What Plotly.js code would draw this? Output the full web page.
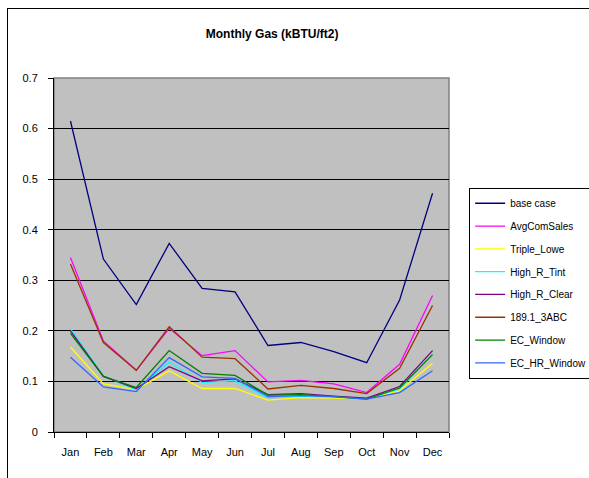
<!DOCTYPE html>
<html>
<head>
<meta charset="utf-8">
<script src="https://cdn.plot.ly/plotly-3.0.1.min.js"></script>
<style>
html,body{margin:0;padding:0;background:#fff;}
#wrap{position:relative;width:589px;height:478px;overflow:hidden;}
#chart{position:absolute;left:0;top:0;width:589px;height:478px;}
#frame{position:absolute;left:7px;top:8px;width:600px;height:500px;border-left:1px solid #000;border-top:1px solid #000;pointer-events:none;}
</style>
</head>
<body>
<div id="wrap"><div id="chart"></div><div id="frame"></div></div>
<script>
const months = ["Jan","Feb","Mar","Apr","May","Jun","Jul","Aug","Sep","Oct","Nov","Dec"];
const seriesNames = ["base case","AvgComSales","Triple_Lowe","High_R_Tint","High_R_Clear","189.1_3ABC","EC_Window","EC_HR_Window"];
const baseCase     = [0.615,0.342,0.252,0.373,0.284,0.277,0.171,0.177,0.159,0.137,0.261,0.472];
const avgComSales  = [0.345,0.180,0.122,0.205,0.151,0.161,0.099,0.102,0.095,0.078,0.134,0.270];
const tripleLowe   = [0.168,0.095,0.084,0.121,0.086,0.086,0.063,0.068,0.067,0.066,0.082,0.136];
const highRTint    = [0.204,0.111,0.083,0.138,0.098,0.101,0.068,0.071,0.069,0.066,0.085,0.155];
const highRClear   = [0.200,0.110,0.086,0.129,0.101,0.105,0.074,0.076,0.071,0.067,0.090,0.161];
const ashrae189    = [0.332,0.177,0.122,0.208,0.148,0.145,0.085,0.092,0.086,0.076,0.126,0.250];
const ecWindow     = [0.195,0.110,0.088,0.161,0.116,0.112,0.073,0.074,0.070,0.065,0.087,0.153];
const ecHRWindow   = [0.148,0.089,0.080,0.147,0.109,0.106,0.070,0.072,0.070,0.065,0.078,0.121];
const yTicks = [0,0.1,0.2,0.3,0.4,0.5,0.6,0.7];
const yTickLabels = ["0","0.1","0.2","0.3","0.4","0.5","0.6","0.7"];

const allSeries = [baseCase,avgComSales,tripleLowe,highRTint,highRClear,ashrae189,ecWindow,ecHRWindow];
const colors = ["#000080","#FF00FF","#FFFF00","#00FFFF","#800080","#993300","#008000","#3366FF"];

const traces = allSeries.map((vals,i)=>({
  type:"scatter", mode:"lines", x:months, y:vals, name:seriesNames[i],
  legendgroup:"g"+i,
  line:{color:colors[i], width:1.3}
}));

const layout = {
  width:589, height:478,
  margin:{l:54, r:140, t:78, b:46, autoexpand:false},
  paper_bgcolor:"#ffffff",
  plot_bgcolor:"#C0C0C0",
  font:{family:"Liberation Sans, Arial, sans-serif", size:11, color:"#000"},
  title:{text:"<b>Monthly Gas (kBTU/ft2)</b>", font:{size:12, color:"#000"}, x:0.462, xanchor:"center", y:0.93, yanchor:"middle"},
  showlegend:true,
  legend:{x:1.051, xanchor:"left", y:0.69, yanchor:"top", bgcolor:"#fff", bordercolor:"#000", borderwidth:1,
          font:{size:10}, traceorder:"grouped", tracegroupgap:3.8, itemwidth:30},
  xaxis:{type:"category", range:[-0.5,11.5], showgrid:false, showline:true, linecolor:"#000", linewidth:1,
         ticks:"outside", ticklen:5, tickcolor:"#000", tickson:"boundaries", zeroline:false,
         fixedrange:true, tickfont:{size:11}, ticklabelstandoff:10},
  yaxis:{range:[0,0.7], tickvals:yTicks, ticktext:yTickLabels, showgrid:true, gridcolor:"#000", gridwidth:1,
         showline:true, linecolor:"#000", linewidth:1, ticks:"outside", ticklen:5, tickcolor:"#000",
         zeroline:false, fixedrange:true, tickfont:{size:11}, ticklabelstandoff:8},
  shapes:[{type:"rect", xref:"paper", yref:"paper", x0:0, x1:1, y0:0, y1:1, line:{color:"#808080", width:1.5}, layer:"below"}]
};

Plotly.newPlot("chart", traces, layout, {staticPlot:true, displayModeBar:false});
</script>
</body>
</html>
